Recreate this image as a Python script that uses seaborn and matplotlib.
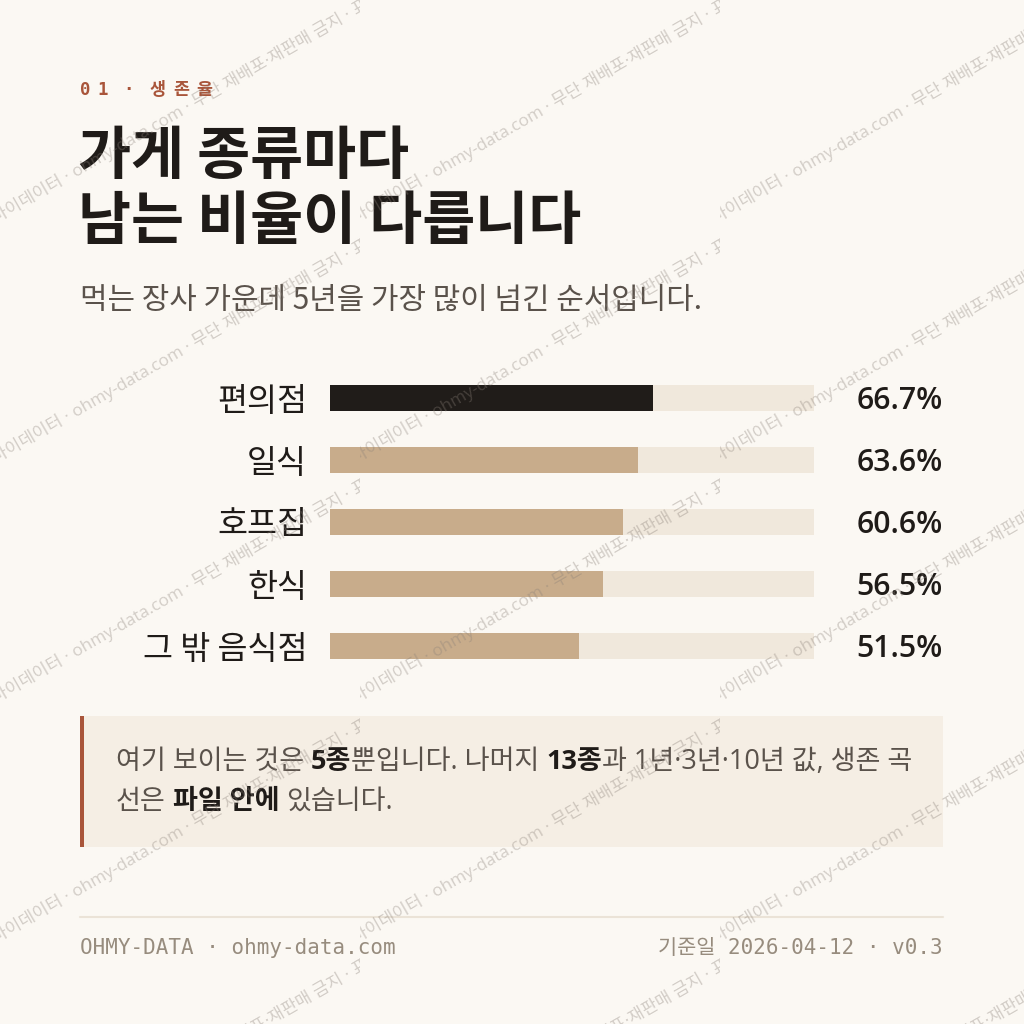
import matplotlib
matplotlib.use('Agg')
import matplotlib.pyplot as plt
import matplotlib.transforms as mtransforms
from matplotlib.patches import Rectangle
import seaborn as sns
import pandas as pd

# Data
categories = ['편의점', '일식', '호프집', '한식', '그 밖 음식점']
survival = [66.7, 63.6, 60.6, 56.5, 51.5]
value_labels = ['66.7%', '63.6%', '60.6%', '56.5%', '51.5%']
bar_colors = ['#201c19', '#c8ac8b', '#c8ac8b', '#c8ac8b', '#c8ac8b']

kicker = '01 · 생존율'
title_lines = ['가게 종류마다', '남는 비율이 다릅니다']
subtitle = '먹는 장사 가운데 5년을 가장 많이 넘긴 순서입니다.'
note_line1 = [('여기 보이는 것은 ', 'normal'), ('5종', 'bold'), ('뿐입니다. 나머지 ', 'normal'),
              ('13종', 'bold'), ('과 1년·3년·10년 값, 생존 곡', 'normal')]
note_line2 = [('선은 ', 'normal'), ('파일 안에', 'bold'), (' 있습니다.', 'normal')]
footer_left = 'OHMY-DATA · ohmy-data.com'
footer_right = '기준일 2026-04-12 · v0.3'
watermark = '마이데이터 · ohmy-data.com · 무단 재배포·재판매 금지 · 표본 인용 시 출처 표기'

BG = '#fbf8f3'
INK = '#1f1b18'
MUTED = '#5a524b'
ACCENT = '#a9553a'
TRACK = '#f0e8dc'

sns.set_theme(style='white')
plt.rcParams['font.family'] = ['Noto Sans CJK KR', 'DejaVu Sans']
MONO = ['DejaVu Sans Mono', 'Noto Sans CJK KR']
MIXED = ['Open Sans', 'Noto Sans CJK KR']

W = 1024
fig = plt.figure(figsize=(10.24, 10.24), dpi=100, facecolor=BG)
renderer = fig.canvas.get_renderer()


def fx(px):
    return px / W


def fy(py):
    return 1 - py / W


def draw_runs(x_px, y_px, runs, size, colors, family=None, track=0.0):
    # place text pieces one after another, spaces measured by hand
    x = x_px
    space = size * 0.25 / 0.72
    for txt, weight in runs:
        lead = len(txt) - len(txt.lstrip(' '))
        trail = len(txt) - len(txt.rstrip(' '))
        x += lead * space
        core = txt.strip(' ')
        if core:
            kw = {'family': family} if family else {}
            t = fig.text(fx(x), fy(y_px), core, fontsize=size, fontweight=weight,
                         color=colors[weight], ha='left', va='center', **kw)
            x += t.get_window_extent(renderer).width + track
        x += trail * space
    return x


# Bars
ax = fig.add_axes([fx(330), fy(677), fx(814) - fx(330), fy(367) - fy(677)])
ax.set_facecolor('none')
df = pd.DataFrame({'cat': categories, 'val': survival, 'track': [100] * len(categories)})
sns.barplot(data=df, y='cat', x='track', color=TRACK, width=0.42, saturation=1,
            linewidth=0, ax=ax)
sns.barplot(data=df, y='cat', x='val', hue='cat', palette=bar_colors, width=0.42,
            saturation=1, dodge=False, legend=False, linewidth=0, ax=ax)
ax.set_xlim(0, 100)
ax.set_ylim(len(categories) - 0.5, -0.5)
ax.set_xticks([])
ax.set_xlabel('')
ax.set_ylabel('')
ax.tick_params(axis='y', length=0, pad=16.5, labelsize=23.5, labelcolor=INK)
sns.despine(ax=ax, left=True, bottom=True)

trans = mtransforms.blended_transform_factory(fig.transFigure, ax.transData)
for i, lab in enumerate(value_labels):
    ax.text(fx(943), i + 0.05, lab, transform=trans, ha='right', va='center', fontsize=21.8,
            fontweight='semibold', color=INK, family=MIXED)

# Header texts
draw_runs(80, 90, [(c, 'bold') for c in kicker], 12.5, {'bold': ACCENT}, family=MONO, track=7)
fig.text(fx(78), fy(157), title_lines[0], fontsize=41.5, fontweight='bold', color=INK, va='center')
fig.text(fx(78), fy(222), title_lines[1], fontsize=41.5, fontweight='bold', color=INK, va='center')
fig.text(fx(80), fy(300), subtitle, fontsize=21.5, color=MUTED, va='center')

# Note box
fig.patches.append(Rectangle((fx(80), fy(847)), fx(943) - fx(80), fy(716) - fy(847),
                             transform=fig.transFigure, facecolor='#f5eee4', edgecolor='none', zorder=0))
fig.patches.append(Rectangle((fx(80), fy(847)), fx(4), fy(716) - fy(847),
                             transform=fig.transFigure, facecolor=ACCENT, edgecolor='none', zorder=1))
note_colors = {'normal': MUTED, 'bold': INK}
draw_runs(116, 762, note_line1, 19.5, note_colors, family=MIXED)
draw_runs(116, 802, note_line2, 19.5, note_colors, family=MIXED)

# Footer
fig.add_artist(plt.Line2D([fx(80), fx(943)], [fy(917), fy(917)], color='#ebe3d7', lw=1.5,
                          transform=fig.transFigure))
fig.text(fx(80), fy(948), footer_left, fontsize=15, color='#978c7e', family=MONO, va='center')
fig.text(fx(943), fy(948), footer_right, fontsize=15, color='#978c7e', family=MONO,
         va='center', ha='right')

# Watermark tiles (each copy clipped to its 360 px column, like the reference)
for col in range(3):
    clip = mtransforms.TransformedBbox(
        mtransforms.Bbox([[fx(col * 360), 0], [fx(col * 360 + 360), 1]]), fig.transFigure)
    for row in range(-1, 5):
        t = fig.text(fx(col * 360 - 4), fy(224 + row * 240), watermark, fontsize=12.3,
                     color='#8a8078', alpha=0.36, rotation=30, rotation_mode='anchor',
                     ha='left', va='baseline', zorder=10, family=MIXED)
        t.set_clip_box(clip)
        t.set_clip_on(True)

fig.savefig('out.png', dpi=100, facecolor=BG)
